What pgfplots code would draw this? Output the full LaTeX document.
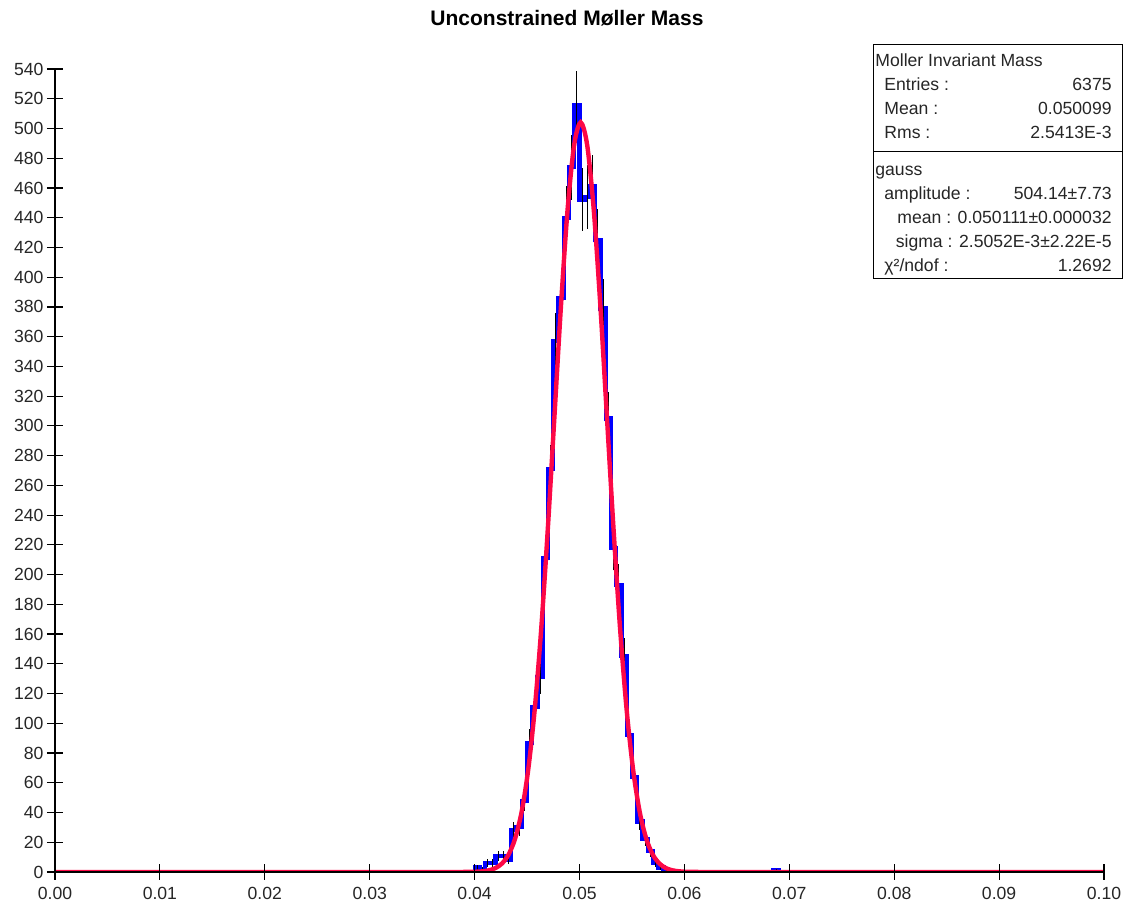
\documentclass[border=0pt]{standalone}
\usepackage{fontspec}
\setmainfont{Liberation Sans}
\usepackage{pgfplots}
\usepackage{pgfplotstable}
\pgfplotsset{compat=1.18}
\definecolor{histblue}{RGB}{0,0,255}
\definecolor{fitred}{RGB}{252,8,70}

\pgfplotstableread{
x y
0 0
0.0400 3
0.0405 2
0.0410 6
0.0415 6
0.0420 11
0.0425 11
0.0430 8
0.0435 28
0.0440 30
0.0445 48
0.0450 87
0.0455 111
0.0460 131
0.0465 211
0.0470 271
0.0475 357
0.0480 386
0.0485 440
0.0490 474
0.0495 516
0.0500 452
0.0505 454
0.0510 461
0.0515 425
0.0520 379
0.0525 305
0.0530 218
0.0535 193
0.0540 145
0.0545 92
0.0550 64
0.0555 34
0.0560 22
0.0565 14
0.0570 6
0.0575 3
0.0580 1
0.0585 0
0.0685 1
0.0690 0
0.1 0
}\histtable

\pgfplotstableread{
x y e
0.04025 3 1.73
0.04075 2 1.41
0.04125 6 2.45
0.04175 6 2.45
0.04225 11 3.32
0.04275 11 3.32
0.04325 8 2.83
0.04375 28 5.29
0.04425 30 5.48
0.04475 48 6.93
0.04525 87 9.33
0.04575 111 10.54
0.04625 131 11.45
0.04675 211 14.53
0.04725 271 16.46
0.04775 357 18.89
0.04825 386 19.65
0.04875 440 20.98
0.04925 474 21.77
0.04975 516 22.72
0.05025 452 21.26
0.05075 454 21.31
0.05125 461 21.47
0.05175 425 20.62
0.05225 379 19.47
0.05275 305 17.46
0.05325 218 14.76
0.05375 193 13.89
0.05425 145 12.04
0.05475 92 9.59
0.05525 64 8.00
0.05575 34 5.83
0.05625 22 4.69
0.05675 14 3.74
0.05725 6 2.45
0.05775 3 1.73
0.05825 1 1.00
0.06875 1 1.00
}\errtable

\pgfplotstableread{
x y
0.0 0
0.0300 0
0.037585 0.0019
0.038838 0.0201
0.040090 0.1691
0.040717 0.4457
0.041343 1.1026
0.041969 2.564
0.042595 5.600
0.043222 11.491
0.043848 22.151
0.044474 40.109
0.045101 68.228
0.045727 109.03
0.046353 163.67
0.046980 230.81
0.047606 305.78
0.048232 380.55
0.048858 444.90
0.049485 488.63
0.050111 504.14
0.050737 488.63
0.051364 444.90
0.051990 380.55
0.052616 305.78
0.053243 230.81
0.053869 163.67
0.054495 109.03
0.055121 68.228
0.055748 40.109
0.056374 22.151
0.057000 11.491
0.057627 5.600
0.058253 2.564
0.058879 1.1026
0.059506 0.4457
0.060132 0.1691
0.061384 0.0201
0.062637 0.0019
0.0700 0
0.1 0
}\fittable

\begin{document}
\begin{tikzpicture}
\useasboundingbox (0,0) rectangle (563pt,454.5pt);
\begin{axis}[
  at={(27.5pt,18.5pt)}, anchor=south west,
  scale only axis, width=524.5pt, height=401.5pt,
  xmin=0, xmax=0.1, ymin=0, ymax=540,
  axis lines=left,
  axis line style={-, line width=0.6pt, black},
  tick align=center, major tick length=8pt,
  tick style={black, line width=0.6pt},
  xtick={0,0.01,0.02,0.03,0.04,0.05,0.06,0.07,0.08,0.09,0.1},
  ytick={0,20,...,540},
  scaled x ticks=false,
  xticklabel style={/pgf/number format/.cd, fixed, fixed zerofill, precision=2},
  yticklabel style={xshift=1.8pt},
  ticklabel style={font=\fontsize{8.8}{10}\selectfont, text=black!85},
  /pgf/number format/assume math mode=true,
  axis on top,
]
\addplot[const plot mark left, histblue, line width=2.1pt] table[x=x, y=y] {\histtable};
\addplot[draw=none, mark=none, error bars/.cd, y dir=both, y explicit, error mark=none,
  error bar style={draw=black, line width=0.5pt}] table[x=x, y=y, y error=e] {\errtable};
\addplot[smooth, fitred, line width=2.2pt] table[x=x, y=y] {\fittable};
\end{axis}
% title
\node[font=\fontsize{10.5}{12}\selectfont\bfseries] at (283.5pt,445.5pt) {Unconstrained Møller Mass};
% statistics box
\draw[line width=0.5pt, fill=white] (436.5pt,315pt) rectangle (561pt,432pt);
\draw[line width=0.5pt] (436.5pt,378.5pt) -- (561pt,378.5pt);
\begin{scope}[every node/.style={font=\fontsize{8.8}{10}\selectfont, inner sep=0pt, text=black!85}]
\node[anchor=base west] at (437.5pt,421.3pt) {Moller Invariant Mass};
\node[anchor=base west] at (442pt,409.3pt) {Entries :};
\node[anchor=base east] at (556pt,409.3pt) {6375};
\node[anchor=base west] at (442pt,397.3pt) {Mean :};
\node[anchor=base east] at (556pt,397.3pt) {0.050099};
\node[anchor=base west] at (442pt,385.3pt) {Rms :};
\node[anchor=base east] at (556pt,385.3pt) {2.5413E-3};
\node[anchor=base west] at (437.5pt,366.8pt) {gauss};
\node[anchor=base west] at (442pt,354.8pt) {amplitude :};
\node[anchor=base east] at (556pt,354.8pt) {504.14±7.73};
\node[anchor=base east] at (556pt,342.8pt) {mean : 0.050111±0.000032};
\node[anchor=base east] at (556pt,330.8pt) {sigma : 2.5052E-3±2.22E-5};
\node[anchor=base west] at (442pt,318.8pt) {χ²/ndof :};
\node[anchor=base east] at (556pt,318.8pt) {1.2692};
\end{scope}
\end{tikzpicture}
\end{document}
